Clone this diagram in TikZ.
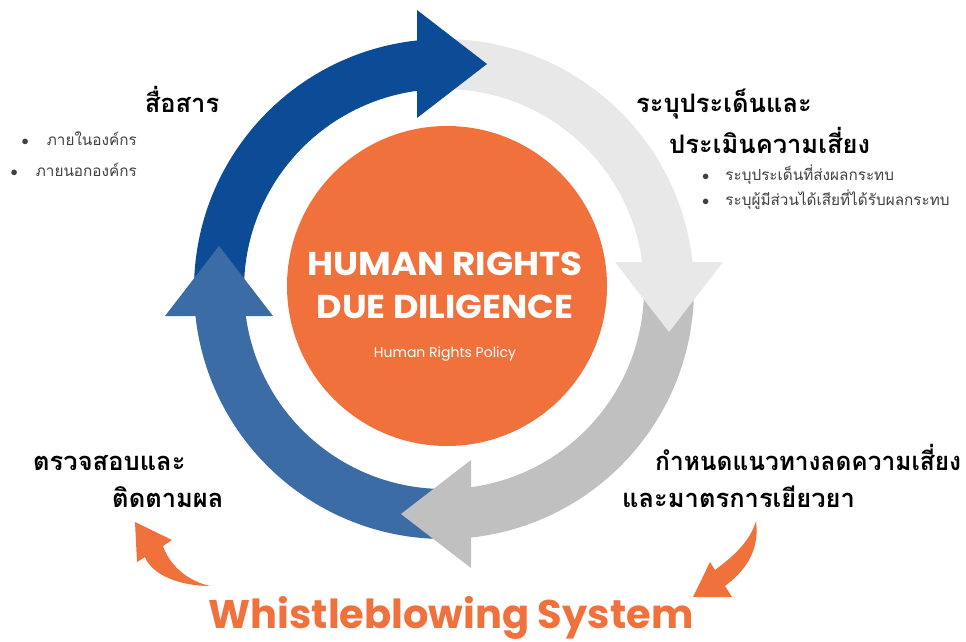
\documentclass[tikz,border=0pt]{standalone}
\usepackage{fontspec}
\usepackage{tikz}
\usetikzlibrary{positioning, calc}
\newfontfamily\thai[Script=Thai]{Loma}
\newfontfamily\geo{Poppins}
\definecolor{dblue}{RGB}{12,76,150}
\definecolor{lblue}{RGB}{60,108,165}
\definecolor{lgray}{RGB}{232,232,232}
\definecolor{mgray}{RGB}{192,192,192}
\definecolor{orng}{RGB}{240,113,60}
\tikzset{
  head/.style={font=\thai\bfseries\fontsize{25.5}{30}\selectfont, inner sep=0pt},
  item/.style={font=\thai\fontsize{15.3}{18}\selectfont, text=black!75, inner sep=0pt},
  title/.style={font=\geo\bfseries\fontsize{33}{36}\selectfont, text=white, inner sep=0pt}
}

\begin{document}
\begin{tikzpicture}[x=1pt, y=1pt]

        \useasboundingbox (0,0) rectangle (966,641);
        \coordinate (ctr) at (444,352); % centre of the ring

        % Ring bands
        \foreach \rot/\col in {0/dblue, -90/lgray, -180/mgray, -270/lblue}
          \draw[\col, line width=50pt, shift={(ctr)}, rotate=\rot]
            (178:225) arc[start angle=178, end angle=95, radius=225pt];

        % Ring arrowheads
        \foreach \rot/\col in {0/dblue, -90/lgray, -180/mgray, -270/lblue}
          \fill[\col, shift={(ctr)}, rotate=\rot] (-27,171) -- (-27,279) -- (43,225) -- cycle;

        % Centre disc
        \fill[orng] (447,355) circle (160);
        \node[title, anchor=base] (hr) at (445,366) {\scalebox{1.08}[1]{HUMAN RIGHTS}};
        \node[title, anchor=base] (dd) at (445,323) {\scalebox{1.06}[1]{DUE DILIGENCE}};
        \node[font=\geo\fontsize{14}{16}\selectfont, text=white, anchor=base] (pol) at (445,284) {Human Rights Policy};

        % Step labels
        \node[head, anchor=base] (comm) at (182,528) {สื่อสาร};
        \node[item, anchor=base east] (in) at (137,495) {$\bullet$\hspace{18pt}ภายในองค์กร};
        \node[item, anchor=base east] (out) at (137,464) {$\bullet$\hspace{18pt}ภายนอกองค์กร};

        \node[head, anchor=base west] (id) at (636,528) {ระบุประเด็นและ};
        \node[head, anchor=base west] (assess) at (669,487) {ประเมินความเสี่ยง};
        \node[item, anchor=base west] (iss) at (702,460) {$\bullet$\hspace{16pt}ระบุประเด็นที่ส่งผลกระทบ};
        \node[item, anchor=base west] (stk) at (702,435) {$\bullet$\hspace{16pt}ระบุผู้มีส่วนได้เสียที่ได้รับผลกระทบ};

        \node[head, anchor=base west] (chk) at (33,171) {ตรวจสอบและ};
        \node[head, anchor=base west] (track) at (112,134) {ติดตามผล};

        \node[head, anchor=base west] (mit) at (655,171) {\scalebox{0.96}[1]{กำหนดแนวทางลดความเสี่ยง}};
        \node[head, anchor=base west] (rem) at (622,134) {และมาตรการเยียวยา};

        % Whistleblowing
        \node[font=\geo\bfseries\fontsize{40}{44}\selectfont, text=orng, inner sep=0pt, anchor=base] (wb) at (451,13) {Whistleblowing System};

        % Orange curved arrows
        \fill[orng] (210,55) .. controls (180,55) and (152,66) .. (145,84) -- (137,79) -- (135,119)
          -- (172,101) -- (163,95) .. controls (170,75) and (188,60) .. (210,55) -- cycle;
        \fill[orng] (756,120) .. controls (760,90) and (745,70) .. (725,55) -- (732,44) -- (693,44)
          -- (710,79) -- (715,71) .. controls (735,86) and (750,100) .. (756,120) -- cycle;

\end{tikzpicture}
\end{document}
